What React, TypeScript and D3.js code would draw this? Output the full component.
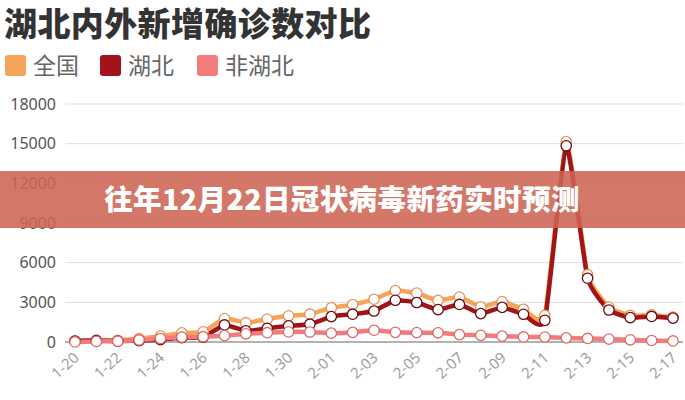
import React from "react";
import * as d3 from "d3";

const dates = [
  "1-20","1-21","1-22","1-23","1-24","1-25","1-26","1-27","1-28","1-29","1-30","1-31",
  "2-01","2-02","2-03","2-04","2-05","2-06","2-07","2-08","2-09","2-10","2-11","2-12","2-13","2-14","2-15","2-16","2-17",
];
const national = [77,149,131,259,444,688,769,1771,1459,1737,1982,2102,2590,2829,3235,3887,3694,3143,3399,2656,3062,2478,2015,15152,5090,2641,2009,2048,1886];
const hubei = [72,105,69,105,180,323,371,1291,840,1032,1220,1347,1921,2103,2345,3156,2987,2447,2841,2147,2618,2097,1638,14840,4823,2420,1843,1933,1807];
const nonHubei = national.map((v, i) => v - hubei[i]);
const yTicks = [0, 3000, 6000, 9000, 12000, 15000, 18000];
const seriesNames = ["全国", "湖北", "非湖北"];
const seriesColors = ["#f5a458", "#a3141a", "#f27c7c"];
const markerStroke = ["#e8945a", "#6e0a0e", "#e06a6a"];
const titleText = "湖北内外新增确诊数对比";
const bannerText = "往年12月22日冠状病毒新药实时预测";

export default function App() {
  const W = 685, H = 400;
  const x = d3.scalePoint<string>().domain(dates).range([75, 673]);
  const y = d3.scaleLinear().domain([0, 18000]).range([342, 104]);
  const line = d3
    .line<number>()
    .x((_, i) => x(dates[i]) as number)
    .y((d) => y(d))
    .curve(d3.curveCardinal.tension(0.55));
  const data = [national, hubei, nonHubei];
  const cjk = "'Noto Sans CJK SC', 'Noto Sans', sans-serif";
  const legendX = [5, 100, 197];

  return (
    <svg
      width={W}
      height={H}
      style={{ position: "fixed", left: 0, top: 0, background: "#fff" }}
      fontFamily={cjk}
    >
      <text x={4} y={36} fontSize={33} fontWeight={800} fill="#333" letterSpacing={0.4}>
        {titleText}
      </text>
      {seriesNames.map((n, i) => (
        <g key={n}>
          <rect x={legendX[i]} y={55} width={21} height={21} rx={3} fill={seriesColors[i]} />
          <text x={legendX[i] + 28} y={74} fontSize={23} fill="#666">
            {n}
          </text>
        </g>
      ))}
      {yTicks.map((t) => (
        <g key={t}>
          <line
            x1={65}
            x2={683}
            y1={y(t)}
            y2={y(t)}
            stroke={t === 0 ? "#666" : "#ddd"}
            strokeWidth={t === 0 ? 1.2 : 1}
          />
          <text
            x={56}
            y={y(t)}
            dy="0.35em"
            textAnchor="end"
            fontSize={16}
            fill="#555"
            fontFamily="'Noto Sans', sans-serif"
          >
            {t}
          </text>
        </g>
      ))}
      {dates.map((d, i) =>
        i % 2 === 0 ? (
          <text
            key={d}
            transform={`translate(${(x(d) as number) + 5},${359}) rotate(-42)`}
            textAnchor="end"
            fontSize={15}
            fill="#a0a0a0"
            fontFamily="'Noto Sans', sans-serif"
          >
            {d}
          </text>
        ) : null
      )}
      {data.map((s, k) => (
        <path
          key={k}
          d={line(s) || ""}
          fill="none"
          stroke={seriesColors[k]}
          strokeWidth={4.5}
          strokeLinejoin="round"
        />
      ))}
      {data.map((s, k) =>
        s.map((v, i) => (
          <circle
            key={`${k}-${i}`}
            cx={x(dates[i]) as number}
            cy={y(v)}
            r={5.2}
            fill="#fff"
            stroke={markerStroke[k]}
            strokeWidth={1.3}
          />
        ))
      )}
      <rect x={0} y={171} width={W} height={57} fill="rgb(205,100,84)" fillOpacity={0.88} />
      <text
        x={342}
        y={200}
        dy="0.35em"
        textAnchor="middle"
        fontSize={28.5}
        fontWeight={900}
        fill="#fff"
        letterSpacing={0.4}
      >
        {bannerText}
      </text>
    </svg>
  );
}
